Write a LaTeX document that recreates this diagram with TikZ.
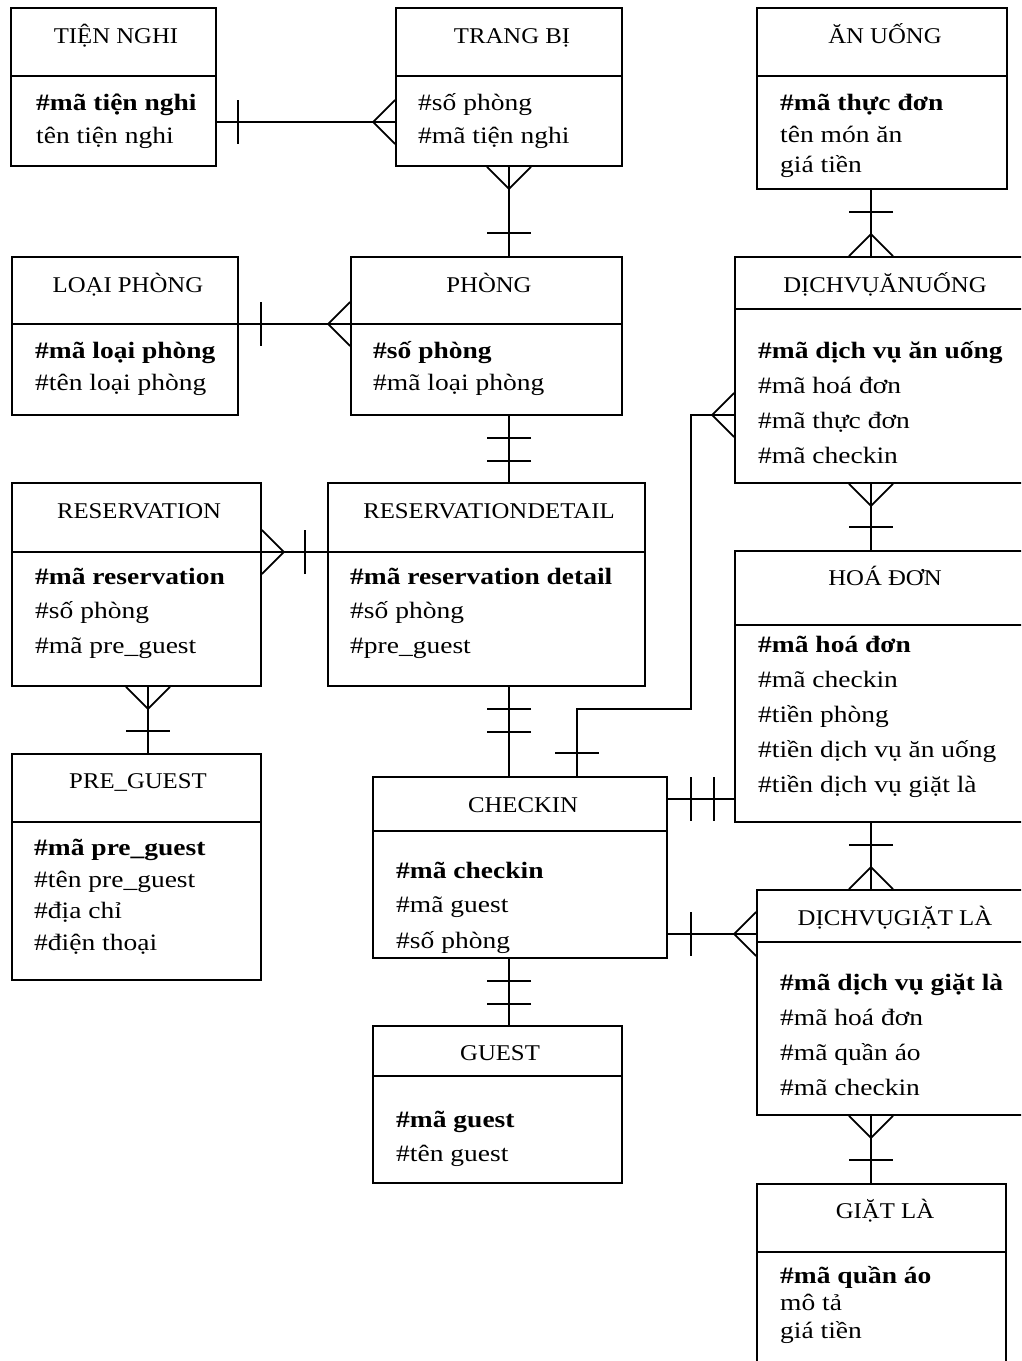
\documentclass[tikz,border=0pt]{standalone}
\usepackage{fontspec}
\setmainfont{Liberation Serif}[FakeStretch=1.17]
\newfontfamily\headfont{Liberation Serif}[FakeStretch=1.1]
\usetikzlibrary{fit}

\tikzset{
  er/.style={draw, line width=1.8pt, inner sep=0pt},
  conn/.style={line width=1.8pt},
  ttl/.style={inner sep=0pt, anchor=base, font=\headfont\fontsize{22.5}{26}\selectfont},
  attr/.style={inner sep=0pt, anchor=base west, font=\fontsize{23.5}{28}\selectfont},
  key/.style={attr, font=\fontsize{23.5}{28}\selectfont\bfseries},
  pics/crowfoot/.style={code={\draw[conn] (0,-22) -- (22,0) -- (0,22);}},
  pics/onebar/.style={code={\draw[conn] (#1,-22) -- (#1,22);}},
}

% entity box: name, left, top, right, bottom, divider y, title x, title baseline, title
\newcommand\erbox[9]{%
  \node[er, fit={(#2,#3) (#4,#5)}] (#1) {};
  \draw[conn] (#2,#6) -- (#4,#6);
  \node[ttl] (#1-t) at (#7,#8) {#9};
}

\begin{document}
\begin{tikzpicture}[x=1pt, y=-1pt]
\useasboundingbox (0,0) rectangle (1021,1361);
\clip (0,0) rectangle (1021,1361);

% ---------- entities ----------
\erbox{tn}{11}{8}{216}{166}{76}{116}{43}{TIỆN NGHI}
\node[key]  (tn-1) at (36,110) {\#mã tiện nghi};
\node[attr] (tn-2) at (36,143) {tên tiện nghi};

\erbox{tb}{396}{8}{622}{166}{76}{512}{43}{TRANG BỊ}
\node[attr] (tb-1) at (418,110) {\#số phòng};
\node[attr] (tb-2) at (418,143) {\#mã tiện nghi};

\erbox{au}{757}{8}{1007}{189}{76}{885}{43}{ĂN UỐNG}
\node[key]  (au-1) at (780,110) {\#mã thực đơn};
\node[attr] (au-2) at (780,142) {tên món ăn};
\node[attr] (au-3) at (780,172) {giá tiền};

\erbox{lp}{12}{257}{238}{415}{324}{128}{292}{LOẠI PHÒNG}
\node[key]  (lp-1) at (35,358) {\#mã loại phòng};
\node[attr] (lp-2) at (35,390) {\#tên loại phòng};

\erbox{ph}{351}{257}{622}{415}{324}{489}{292}{PHÒNG}
\node[key]  (ph-1) at (373,358) {\#số phòng};
\node[attr] (ph-2) at (373,390) {\#mã loại phòng};

\erbox{dvau}{735}{257}{1050}{483}{309}{885}{292}{DỊCHVỤĂNUỐNG}
\node[key]  (dvau-1) at (758,358) {\#mã dịch vụ ăn uống};
\node[attr] (dvau-2) at (758,393) {\#mã hoá đơn};
\node[attr] (dvau-3) at (758,428) {\#mã thực đơn};
\node[attr] (dvau-4) at (758,463) {\#mã checkin};

\erbox{rs}{12}{483}{261}{686}{552}{139}{518}{RESERVATION}
\node[key]  (rs-1) at (35,584) {\#mã reservation};
\node[attr] (rs-2) at (35,618) {\#số phòng};
\node[attr] (rs-3) at (35,653) {\#mã pre\_guest};

\erbox{rd}{328}{483}{645}{686}{552}{489}{518}{RESERVATIONDETAIL}
\node[key]  (rd-1) at (350,584) {\#mã reservation detail};
\node[attr] (rd-2) at (350,618) {\#số phòng};
\node[attr] (rd-3) at (350,653) {\#pre\_guest};

\erbox{hd}{735}{551}{1050}{822}{625}{885}{585}{HOÁ ĐƠN}
\node[key]  (hd-1) at (758,652) {\#mã hoá đơn};
\node[attr] (hd-2) at (758,687) {\#mã checkin};
\node[attr] (hd-3) at (758,722) {\#tiền phòng};
\node[attr] (hd-4) at (758,757) {\#tiền dịch vụ ăn uống};
\node[attr] (hd-5) at (758,792) {\#tiền dịch vụ giặt là};

\erbox{pg}{12}{754}{261}{980}{822}{138}{788}{PRE\_GUEST}
\node[key]  (pg-1) at (34,855) {\#mã pre\_guest};
\node[attr] (pg-2) at (34,887) {\#tên pre\_guest};
\node[attr] (pg-3) at (34,918) {\#địa chỉ};
\node[attr] (pg-4) at (34,950) {\#điện thoại};

\erbox{ci}{373}{777}{667}{958}{831}{523}{812}{CHECKIN}
\node[key]  (ci-1) at (396,878) {\#mã checkin};
\node[attr] (ci-2) at (396,912) {\#mã guest};
\node[attr] (ci-3) at (396,948) {\#số phòng};

\erbox{dvgl}{757}{890}{1050}{1115}{942}{895}{925}{DỊCHVỤGIẶT LÀ}
\node[key]  (dvgl-1) at (780,990) {\#mã dịch vụ giặt là};
\node[attr] (dvgl-2) at (780,1025) {\#mã hoá đơn};
\node[attr] (dvgl-3) at (780,1060) {\#mã quần áo};
\node[attr] (dvgl-4) at (780,1095) {\#mã checkin};

\erbox{gu}{373}{1026}{622}{1183}{1076}{500}{1060}{GUEST}
\node[key]  (gu-1) at (396,1127) {\#mã guest};
\node[attr] (gu-2) at (396,1161) {\#tên guest};

\erbox{gl}{757}{1184}{1006}{1420}{1252}{885}{1218}{GIẶT LÀ}
\node[key]  (gl-1) at (780,1283) {\#mã quần áo};
\node[attr] (gl-2) at (780,1310) {mô tả};
\node[attr] (gl-3) at (780,1338) {giá tiền};

% ---------- connector lanes ----------
\coordinate (lane-tn) at (0,122);
\coordinate (lane-lp) at (0,324);
\coordinate (lane-rs) at (0,552);
\coordinate (lane-hd) at (0,799);
\coordinate (lane-gl) at (0,934);
\coordinate (col-mid) at (509,0);
\coordinate (col-right) at (871,0);
\coordinate (col-left) at (148,0);
\coordinate (bend-a) at (691,415);
\coordinate (bend-b) at (691,709);
\coordinate (bend-c) at (577,709);

% TIỆN NGHI -- TRANG BỊ
\draw[conn] (tn.east |- lane-tn) -- (tb.west |- lane-tn);
\pic at (tn.east |- lane-tn) {onebar=21};
\pic[rotate=180] at (tb.west |- lane-tn) {crowfoot};

% TRANG BỊ -- PHÒNG
\draw[conn] (tb.south -| col-mid) -- (ph.north -| col-mid);
\pic[rotate=-90] at (tb.south -| col-mid) {crowfoot};
\pic[rotate=90] at (ph.north -| col-mid) {onebar=23};

% ĂN UỐNG -- DỊCHVỤĂNUỐNG
\draw[conn] (au.south -| col-right) -- (dvau.north -| col-right);
\pic[rotate=-90] at (au.south -| col-right) {onebar=22};
\pic[rotate=90] at (dvau.north -| col-right) {crowfoot};

% LOẠI PHÒNG -- PHÒNG
\draw[conn] (lp.east |- lane-lp) -- (ph.west |- lane-lp);
\pic at (lp.east |- lane-lp) {onebar=22};
\pic[rotate=180] at (ph.west |- lane-lp) {crowfoot};

% PHÒNG -- RESERVATIONDETAIL
\draw[conn] (ph.south -| col-mid) -- (rd.north -| col-mid);
\pic[rotate=-90] at (ph.south -| col-mid) {onebar=22};
\pic[rotate=-90] at (ph.south -| col-mid) {onebar=45};

% RESERVATION -- RESERVATIONDETAIL
\draw[conn] (rs.east |- lane-rs) -- (rd.west |- lane-rs);
\pic at (rs.east |- lane-rs) {crowfoot};
\pic[rotate=180] at (rd.west |- lane-rs) {onebar=22};

% RESERVATION -- PRE_GUEST
\draw[conn] (rs.south -| col-left) -- (pg.north -| col-left);
\pic[rotate=-90] at (rs.south -| col-left) {crowfoot};
\pic[rotate=90] at (pg.north -| col-left) {onebar=22};

% DỊCHVỤĂNUỐNG -- HOÁ ĐƠN
\draw[conn] (dvau.south -| col-right) -- (hd.north -| col-right);
\pic[rotate=-90] at (dvau.south -| col-right) {crowfoot};
\pic[rotate=90] at (hd.north -| col-right) {onebar=23};

% RESERVATIONDETAIL -- CHECKIN
\draw[conn] (rd.south -| col-mid) -- (ci.north -| col-mid);
\pic[rotate=-90] at (rd.south -| col-mid) {onebar=22};
\pic[rotate=-90] at (rd.south -| col-mid) {onebar=45};

% DỊCHVỤĂNUỐNG -- CHECKIN (bent)
\draw[conn] (dvau.west |- bend-a) -- (bend-a) -- (bend-b) -- (bend-c) -- (ci.north -| bend-c);
\pic[rotate=180] at (dvau.west |- bend-a) {crowfoot};
\pic[rotate=90] at (ci.north -| bend-c) {onebar=23};

% CHECKIN -- HOÁ ĐƠN
\draw[conn] (ci.east |- lane-hd) -- (hd.west |- lane-hd);
\pic at (ci.east |- lane-hd) {onebar=23};
\pic at (ci.east |- lane-hd) {onebar=46};

% HOÁ ĐƠN -- DỊCHVỤGIẶT LÀ
\draw[conn] (hd.south -| col-right) -- (dvgl.north -| col-right);
\pic[rotate=-90] at (hd.south -| col-right) {onebar=22};
\pic[rotate=90] at (dvgl.north -| col-right) {crowfoot};

% CHECKIN -- DỊCHVỤGIẶT LÀ
\draw[conn] (ci.east |- lane-gl) -- (dvgl.west |- lane-gl);
\pic at (ci.east |- lane-gl) {onebar=23};
\pic[rotate=180] at (dvgl.west |- lane-gl) {crowfoot};

% CHECKIN -- GUEST
\draw[conn] (ci.south -| col-mid) -- (gu.north -| col-mid);
\pic[rotate=-90] at (ci.south -| col-mid) {onebar=22};
\pic[rotate=-90] at (ci.south -| col-mid) {onebar=45};

% DỊCHVỤGIẶT LÀ -- GIẶT LÀ
\draw[conn] (dvgl.south -| col-right) -- (gl.north -| col-right);
\pic[rotate=-90] at (dvgl.south -| col-right) {crowfoot};
\pic[rotate=90] at (gl.north -| col-right) {onebar=23};
\end{tikzpicture}
\end{document}
